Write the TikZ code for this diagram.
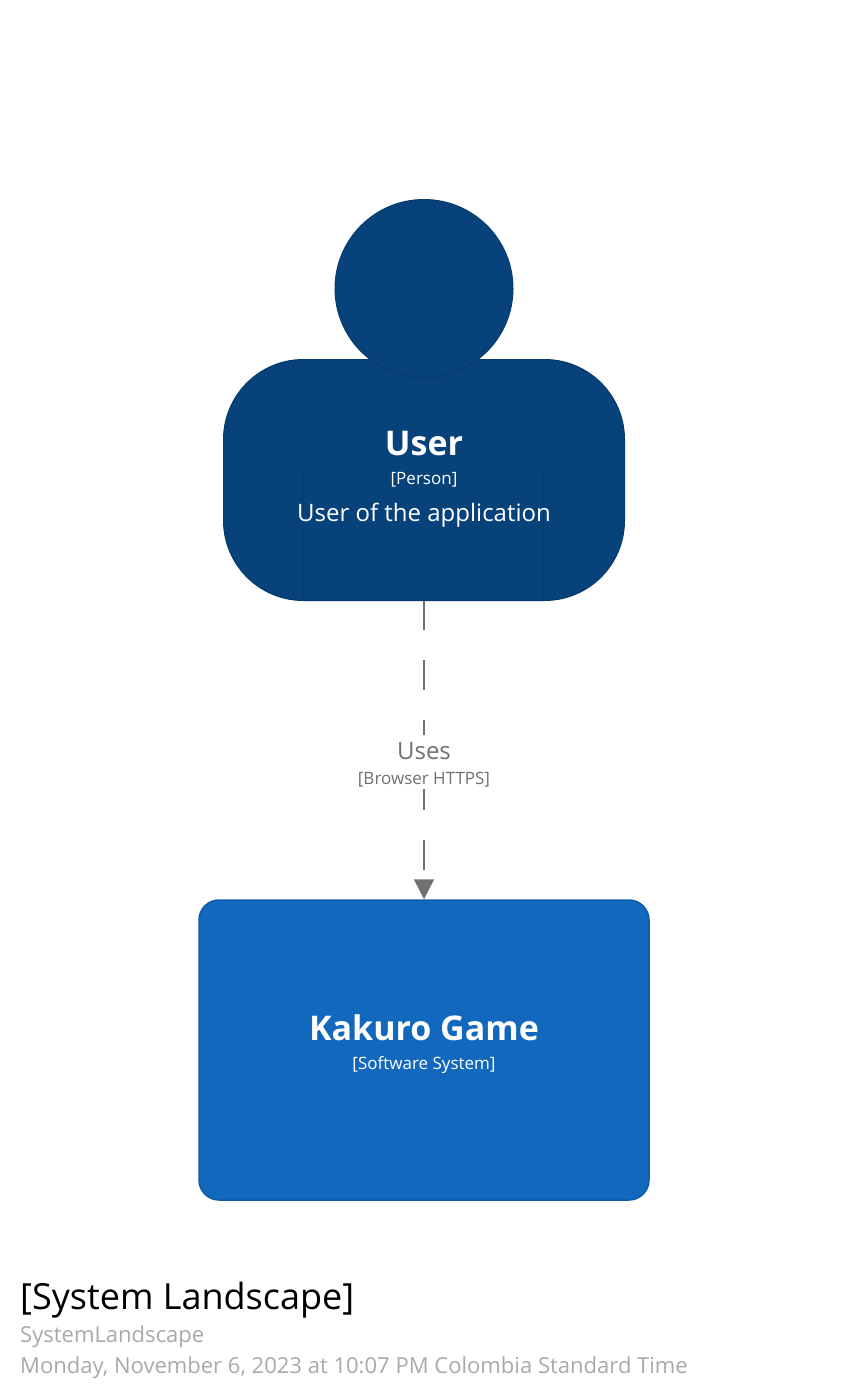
\documentclass[tikz,border=0pt]{standalone}
\usepackage{fontspec}
\setmainfont{Open Sans}
\usetikzlibrary{arrows.meta}
\definecolor{personfill}{HTML}{08427B}
\definecolor{personline}{HTML}{073B6E}
\definecolor{sysfill}{HTML}{1168BD}
\definecolor{sysline}{HTML}{0E5CA8}
\definecolor{linkgrey}{HTML}{707070}
\definecolor{metagrey}{HTML}{A9A9A9}
\tikzset{
  px/.style={x=1pt,y=-1pt},
  personbody/.style={draw=personline,fill=personfill,line width=1pt,rounded corners=80pt,minimum width=401pt,minimum height=241pt,inner sep=0pt},
  personhead/.style={circle,draw=personline,fill=personfill,line width=1pt,minimum size=178pt,inner sep=0pt},
  sysbox/.style={draw=sysline,fill=sysfill,line width=1.5pt,rounded corners=20pt,minimum width=450pt,minimum height=300pt,inner sep=0pt},
  seam/.style={draw=personline,line width=1pt},
  lbl/.style={inner sep=0pt,anchor=base,text=white},
  linktext/.style={inner sep=0pt,anchor=base,text=linkgrey},
  labelmask/.style={fill=white,inner sep=0pt,minimum width=140pt,minimum height=54pt},
  link/.style={draw=linkgrey,line width=1.5pt,dash pattern=on 30pt off 30pt,dash phase=1pt,-{Triangle[length=20pt,width=20pt,fill=linkgrey]}},
  meta/.style={inner sep=0pt,anchor=base west,text=metagrey,font=\fontsize{22.03}{26}\selectfont}
}
\begin{document}
\begin{tikzpicture}[px]
\useasboundingbox (0,0) rectangle (850,1400);
\node[personbody] (body) at (424,480) {};
\node[personhead] (head) at (424,288.5) {};
\coordinate (seamLtop) at (303.5,466);
\coordinate (seamLbot) at (303.5,600);
\coordinate (seamRtop) at (543.5,466);
\coordinate (seamRbot) at (543.5,600);
\draw[seam] (seamLtop) -- (seamLbot);
\draw[seam] (seamRtop) -- (seamRbot);
\node[sysbox] (system) at (424,1050) {};
\draw[link] (body.south) -- (system.north);
\node[labelmask] (linkmask) at (424,762) {};
\node[lbl,font=\bfseries\fontsize{34}{40}\selectfont] (username) at (424,455.5) {User};
\node[lbl,font=\fontsize{17}{20}\selectfont] (usertype) at (424,484) {[Person]};
\node[lbl,font=\fontsize{24}{28}\selectfont] (userdesc) at (424,521) {User of the application};
\node[linktext,font=\fontsize{24}{28}\selectfont] (uses) at (424,759) {Uses};
\node[linktext,font=\fontsize{17}{20}\selectfont] (tech) at (424,784) {[Browser HTTPS]};
\node[lbl,font=\bfseries\fontsize{34}{40}\selectfont] (sysname) at (424,1040) {Kakuro Game};
\node[lbl,font=\fontsize{17}{20}\selectfont] (systype) at (424,1069) {[Software System]};
\node[inner sep=0pt,anchor=base west,text=black,font=\fontsize{36}{42}\selectfont] (title) at (20,1309) {[System Landscape]};
\node[meta] (key) at (20,1342) {SystemLandscape};
\node[meta] (date) at (20,1373) {Monday, November 6, 2023 at 10:07 PM Colombia Standard Time};
\end{tikzpicture}
\end{document}
